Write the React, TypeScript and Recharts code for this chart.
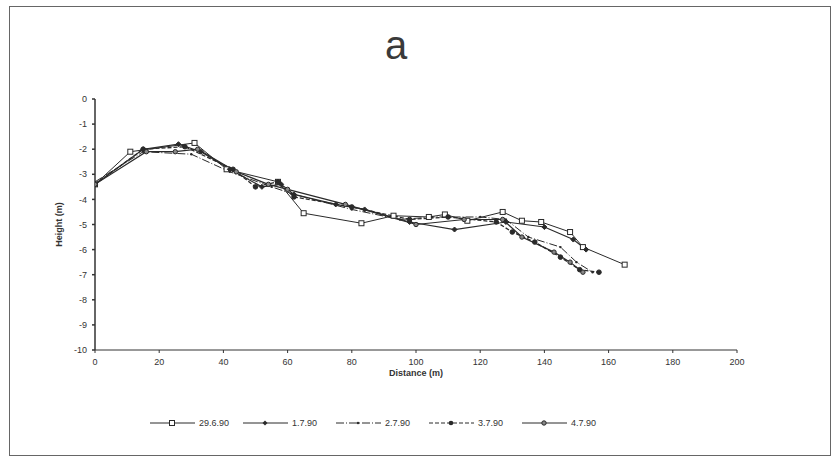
import React from "react";
import { LineChart, Line, XAxis, YAxis, Legend } from "recharts";

const xTicks = [0, 20, 40, 60, 80, 100, 120, 140, 160, 180, 200];
const yTicks = [0, -1, -2, -3, -4, -5, -6, -7, -8, -9, -10];

const seriesNames = ["29.6.90", "1.7.90", "2.7.90", "3.7.90", "4.7.90"];

const s1Dist = [0, 11, 31, 41, 57, 65, 83, 93, 104, 109, 116, 127, 133, 139, 148, 152, 165];
const s1Height = [-3.4, -2.1, -1.75, -2.8, -3.3, -4.55, -4.95, -4.65, -4.7, -4.6, -4.85, -4.5, -4.85, -4.9, -5.3, -5.9, -6.6];

const s2Dist = [0, 15, 26, 33, 42, 52, 58, 62, 75, 84, 98, 112, 128, 140, 149, 153];
const s2Height = [-3.4, -2.0, -1.8, -2.1, -2.8, -3.5, -3.4, -3.8, -4.2, -4.4, -4.9, -5.2, -4.9, -5.1, -5.6, -6.0];

const s3Dist = [0, 15, 30, 42, 55, 62, 80, 95, 105, 120, 128, 135, 145, 150, 155];
const s3Height = [-3.3, -2.1, -2.2, -2.9, -3.5, -3.8, -4.4, -4.8, -4.7, -4.7, -4.8, -5.5, -5.9, -6.5, -6.9];

const s4Dist = [0, 15, 28, 43, 50, 57, 62, 80, 98, 110, 125, 130, 137, 145, 151, 157];
const s4Height = [-3.4, -2.0, -1.9, -2.8, -3.5, -3.3, -3.9, -4.3, -4.8, -4.7, -4.9, -5.3, -5.7, -6.3, -6.8, -6.9];

const s5Dist = [0, 16, 25, 32, 44, 54, 60, 78, 100, 115, 127, 133, 143, 148, 152];
const s5Height = [-3.4, -2.1, -2.1, -2.0, -2.9, -3.4, -3.6, -4.2, -5.0, -4.8, -4.8, -5.5, -6.1, -6.5, -6.9];

const zip = (d: number[], h: number[]) => d.map((v, i) => ({ d: v, h: h[i] }));

const data1 = zip(s1Dist, s1Height);
const data2 = zip(s2Dist, s2Height);
const data3 = zip(s3Dist, s3Height);
const data4 = zip(s4Dist, s4Height);
const data5 = zip(s5Dist, s5Height);

const INK = "#2a2a2a";

const SquareDot = (p: any) => (
  <rect key={p.index} x={p.cx - 2.5} y={p.cy - 2.5} width={5} height={5} fill="#fff" stroke={INK} strokeWidth={1} />
);
const DiamondDot = (p: any) => (
  <path key={p.index} d={`M${p.cx},${p.cy - 2.5}L${p.cx + 2.5},${p.cy}L${p.cx},${p.cy + 2.5}L${p.cx - 2.5},${p.cy}Z`} fill={INK} stroke={INK} />
);
const TinyDot = (p: any) => <circle key={p.index} cx={p.cx} cy={p.cy} r={1.2} fill={INK} />;
const FilledCircle = (p: any) => <circle key={p.index} cx={p.cx} cy={p.cy} r={2.3} fill={INK} stroke={INK} />;
const OpenCircle = (p: any) => <circle key={p.index} cx={p.cx} cy={p.cy} r={2.2} fill="#888" stroke={INK} strokeWidth={1} />;

const legendItems = [
  { name: seriesNames[0], dash: undefined as string | undefined, marker: "square" },
  { name: seriesNames[1], dash: undefined, marker: "diamond" },
  { name: seriesNames[2], dash: "8 2 1 2", marker: "tiny" },
  { name: seriesNames[3], dash: "4 2", marker: "filled" },
  { name: seriesNames[4], dash: undefined, marker: "open" },
];

const renderMarker = (m: string, cx: number, cy: number) => {
  if (m === "square") return <rect x={cx - 2.5} y={cy - 2.5} width={5} height={5} fill="#fff" stroke={INK} />;
  if (m === "diamond") return <path d={`M${cx},${cy - 2.5}L${cx + 2.5},${cy}L${cx},${cy + 2.5}L${cx - 2.5},${cy}Z`} fill={INK} />;
  if (m === "tiny") return <circle cx={cx} cy={cy} r={1.2} fill={INK} />;
  if (m === "filled") return <circle cx={cx} cy={cy} r={2.3} fill={INK} />;
  return <circle cx={cx} cy={cy} r={2.2} fill="#888" stroke={INK} />;
};

const LegendContent = () => (
  <div style={{ display: "flex", alignItems: "center", fontFamily: "'Liberation Sans', Arial, sans-serif", fontSize: 9, color: "#333" }}>
    {legendItems.map((it) => (
      <div key={it.name} style={{ width: 93, display: "flex", alignItems: "center" }}>
        <svg width={46} height={10} style={{ display: "block" }}>
          <line x1={0} y1={5} x2={45} y2={5} stroke={INK} strokeWidth={1} strokeDasharray={it.dash} />
          {renderMarker(it.marker, 22, 5)}
        </svg>
        <span style={{ marginLeft: 3 }}>{it.name}</span>
      </div>
    ))}
  </div>
);

const tickStyle = { fontSize: 9, fill: "#333", fontFamily: "'Liberation Sans', Arial, sans-serif" };

export default function App() {
  return (
    <div style={{ position: "absolute", left: 0, top: 0, width: 839, height: 468, background: "#fff" }}>
      <div
        style={{
          position: "absolute",
          left: 9,
          top: 6,
          width: 822,
          height: 450,
          boxSizing: "border-box",
          border: "1.5px solid #666",
        }}
      />
      <div
        style={{
          position: "absolute",
          left: 346,
          width: 100,
          top: 20,
          textAlign: "center",
          fontFamily: "'Liberation Sans', Arial, sans-serif",
          fontSize: 40,
          color: "#3a3a3a",
          lineHeight: "50px",
        }}
      >
        a
      </div>
      <div style={{ position: "absolute", left: 0, top: 0 }}>
        <LineChart width={839} height={468} margin={{ top: 99, right: 102, bottom: 88, left: 65 }}>
          <XAxis
            type="number"
            dataKey="d"
            domain={[0, 200]}
            ticks={xTicks}
            allowDataOverflow
            height={30}
            stroke="#333"
            tickSize={3}
            tickMargin={6}
            tick={tickStyle}
            label={{ value: "Distance (m)", position: "insideBottom", offset: 4, style: { fontSize: 9, fontWeight: "bold", fill: "#333", fontFamily: "'Liberation Sans', Arial, sans-serif" } }}
          />
          <YAxis
            type="number"
            dataKey="h"
            domain={[-10, 0]}
            ticks={yTicks}
            allowDataOverflow
            width={30}
            stroke="#333"
            strokeWidth={1.5}
            tickSize={3}
            tickMargin={5}
            tick={tickStyle}
            label={{ value: "Height (m)", angle: -90, position: "insideLeft", offset: 0, dx: -6, style: { fontSize: 9, fontWeight: "bold", fill: "#333", textAnchor: "middle", fontFamily: "'Liberation Sans', Arial, sans-serif" } }}
          />
          <Legend
            layout="horizontal"
            verticalAlign="middle"
            align="center"
            content={LegendContent}
            wrapperStyle={{ position: "absolute", left: 150, top: 418, width: 500 }}
          />
          <Line data={data1} dataKey="h" name={seriesNames[0]} stroke={INK} strokeWidth={1} dot={SquareDot} isAnimationActive={false} />
          <Line data={data2} dataKey="h" name={seriesNames[1]} stroke={INK} strokeWidth={1.2} dot={DiamondDot} isAnimationActive={false} />
          <Line data={data3} dataKey="h" name={seriesNames[2]} stroke={INK} strokeWidth={1} strokeDasharray="8 2 1 2" dot={TinyDot} isAnimationActive={false} />
          <Line data={data4} dataKey="h" name={seriesNames[3]} stroke={INK} strokeWidth={1.3} strokeDasharray="4 2" dot={FilledCircle} isAnimationActive={false} />
          <Line data={data5} dataKey="h" name={seriesNames[4]} stroke={INK} strokeWidth={1.2} dot={OpenCircle} isAnimationActive={false} />
        </LineChart>
      </div>
    </div>
  );
}
